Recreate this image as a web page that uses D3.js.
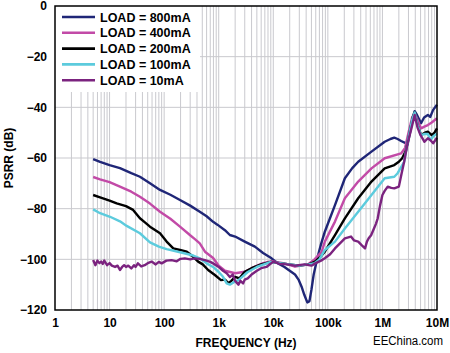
<!DOCTYPE html>
<html>
<head>
<meta charset="utf-8">
<script src="https://cdn.jsdelivr.net/npm/d3@7"></script>
<style>
  html, body { margin: 0; padding: 0; background: #fff; }
  svg { display: block; }
  text { font-family: "Liberation Sans", Arial, sans-serif; }
</style>
</head>
<body>
<svg id="chart" width="450" height="353"></svg>
<script>
// series: [frequency Hz, PSRR dB]
const load800 = [
  [5, -60.4], [6.7, -61.5], [10, -62.8], [15.5, -64], [25, -66], [36, -67.4], [55, -70],
  [84, -72.6], [130, -74.5], [195, -76.6], [300, -78.8], [450, -81.2], [600, -83], [790, -85.2],
  [960, -86.4], [1300, -88.5], [1600, -90.4], [2000, -91], [3000, -93], [4600, -95],
  [6500, -97.5], [9300, -99.6], [12000, -101.5], [16000, -103], [20000, -104.5], [25000, -106],
  [29000, -108], [33000, -110.8], [37000, -114], [42000, -117], [46000, -116.5], [50000, -112],
  [55000, -106], [65000, -99], [75000, -94], [88000, -89.1], [135000, -78.6], [205000, -68],
  [280000, -64], [360000, -61.5], [630000, -57.5], [1100000, -53.6], [1400000, -52.5],
  [1650000, -52], [1900000, -52.5], [2200000, -53.3], [2600000, -54], [2900000, -54.6],
  [3200000, -50], [3600000, -44], [3900000, -41.5], [4300000, -43], [5100000, -46.3],
  [5800000, -44], [6800000, -43], [7500000, -43.8], [8500000, -41], [10000000, -39]
];
const load400 = [
  [5, -67.5], [6.7, -68.4], [10, -69.5], [15.5, -71.3], [25, -73.3], [36, -75.3], [55, -78],
  [84, -81.2], [130, -84], [195, -87.1], [300, -90.5], [366, -92], [450, -93.7], [560, -97],
  [790, -99.5], [1000, -102.5], [1300, -104.5], [2000, -105.5], [3000, -104.9], [4600, -102.9],
  [6500, -101.5], [9300, -100.7], [16000, -101.6], [25000, -102.9], [43000, -102], [57000, -100],
  [77000, -97], [88000, -93], [135000, -85.1], [205000, -75.9], [360000, -69.3], [630000, -64.1],
  [1100000, -60.1], [2200000, -58.2], [2600000, -56], [3000000, -50], [3500000, -44],
  [3900000, -42.3], [4400000, -45], [5100000, -48.3], [6000000, -47.5], [6800000, -47],
  [8000000, -46], [10000000, -44.3]
];
const load200 = [
  [5, -74.6], [6.7, -75.5], [10, -76.8], [13.5, -77.9], [20, -79], [27, -80.5], [36, -83.8],
  [45, -85.5], [55, -87.1], [84, -89.7], [111, -93], [147, -95.7], [195, -96.3], [260, -97],
  [340, -99], [420, -100.9], [510, -102], [640, -104.2], [850, -106.2], [1100, -108.2],
  [1300, -108], [1500, -109.4], [1700, -108.5], [2000, -106.9], [2400, -107.5], [3000, -104.9],
  [4000, -103.5], [6000, -102], [9000, -101], [13000, -101.5], [20000, -102], [30000, -102.5],
  [45000, -102], [57000, -101], [70000, -99.5], [88000, -97], [135000, -90.4], [205000, -83.8],
  [360000, -75.9], [630000, -69.3], [1100000, -64.1], [1650000, -62.8], [2000000, -61.5],
  [2300000, -60.1], [2700000, -57], [3200000, -49], [3600000, -44], [3900000, -42],
  [4400000, -47], [5100000, -50.9], [6000000, -50], [6800000, -49.6], [8000000, -51],
  [9000000, -50], [10000000, -48.3]
];
const load100 = [
  [5, -80.3], [6.7, -81.8], [10.2, -83.2], [15.5, -85], [20.6, -86.8], [36, -89.7], [55, -93.3],
  [80, -95], [111, -96], [224, -97.5], [341, -98.5], [450, -99.6], [600, -101.6], [790, -103],
  [1000, -105], [1200, -106.9], [1400, -109.5], [1600, -110], [1900, -109], [2300, -108.2],
  [3400, -105], [5000, -103], [9000, -101], [13000, -101.5], [20000, -102], [30000, -102.5],
  [45000, -102], [57000, -101.5], [70000, -100], [88000, -96.3], [135000, -93], [205000, -87.8],
  [360000, -81.2], [630000, -74.6], [1100000, -68], [1650000, -67.4], [1900000, -66],
  [2500000, -61.5], [3000000, -52], [3500000, -45], [3900000, -42], [4400000, -47],
  [5100000, -51], [6000000, -50.5], [6800000, -50.5], [7600000, -53], [8500000, -51.5],
  [10000000, -50.3]
];
const load10 = [
  [5, -100.3], [5.5, -102.3], [6, -100.5], [6.5, -101.5], [7, -100.9], [7.5, -101.8], [8, -100.5],
  [9, -102.3], [10, -101.5], [11, -102.5], [12.6, -103], [14, -102.5], [15.5, -104.2], [17, -103],
  [18.5, -102.3], [20, -103], [22, -102.5], [25, -103.6], [28, -102.3], [30, -103], [33, -101.6],
  [38, -102.8], [44, -102.3], [50, -101.5], [59, -100.9], [70, -102], [80, -101], [90, -101.6],
  [110, -100.5], [137, -100.3], [170, -100.8], [200, -99.8], [240, -99.6], [300, -100],
  [366, -99.6], [450, -99.8], [560, -100.3], [700, -101], [790, -101.6], [1000, -103],
  [1200, -104.5], [1400, -105.5], [1600, -107], [1800, -106], [2000, -108.5], [2300, -110],
  [2500, -108.5], [2800, -109.5], [3000, -108], [3400, -107.5], [4000, -106], [5000, -104.5],
  [6000, -103.5], [7500, -103], [10000, -100.9], [13000, -101.8], [18000, -102], [25000, -102.5],
  [37000, -102], [50000, -102.5], [60000, -101.5], [75000, -100.5], [88000, -99.6],
  [110000, -98], [135000, -95.7], [170000, -93.5], [205000, -91.7], [265000, -91],
  [300000, -92.5], [360000, -93], [420000, -94.5], [480000, -95.7], [520000, -93],
  [560000, -91.7], [620000, -90.5], [700000, -87.8], [760000, -86], [820000, -83.8],
  [900000, -79], [1000000, -74.6], [1100000, -73], [1250000, -71.3], [1450000, -71.8],
  [1650000, -72], [2000000, -71.3], [2250000, -66], [2500000, -61.5], [2900000, -54],
  [3400000, -48.3], [3900000, -43], [4400000, -48], [5000000, -51], [5900000, -53.6],
  [6800000, -52.2], [7600000, -53], [8500000, -54.2], [9300000, -53], [10000000, -52]
];

const seriesNames = ["LOAD = 800mA", "LOAD = 400mA", "LOAD = 200mA", "LOAD = 100mA", "LOAD = 10mA"];
const seriesColors = ["#1f2677", "#c24aa7", "#000000", "#5ccbdd", "#7b237f"];
const seriesData = [load800, load400, load200, load100, load10];

const xTicks = [1, 10, 100, 1e3, 1e4, 1e5, 1e6, 1e7];
const xTickLabels = ["1", "10", "100", "1k", "10k", "100k", "1M", "10M"];
const yTicks = [0, -20, -40, -60, -80, -100, -120];

const svg = d3.select("#chart");
const area = { left: 55, right: 437, top: 6, bottom: 310 };

const scX = d3.scaleLog().domain([1, 1e7]).range([area.left, area.right]);
const scY = d3.scaleLinear().domain([-120, 0]).range([area.bottom, area.top]);

// grid
const minorX = [];
for (let d = 1; d < 1e7; d *= 10) {
    for (let k = 1; k <= 9; k++) {
        if (d * k > 1) minorX.push(d * k);
    }
}
const grid = svg.append("g");
grid.selectAll(".vgrid")
    .data(minorX)
    .enter()
    .append("line")
    .attr("x1", d => scX(d)).attr("x2", d => scX(d))
    .attr("y1", area.top).attr("y2", area.bottom)
    .style("stroke", "#c9c9ce").style("stroke-width", 1);
grid.selectAll(".hgrid")
    .data(yTicks.filter(v => v > -120 && v < 0))
    .enter()
    .append("line")
    .attr("x1", area.left).attr("x2", area.right)
    .attr("y1", d => scY(d)).attr("y2", d => scY(d))
    .style("stroke", "#c9c9ce").style("stroke-width", 1);

// legend background hides the grid
svg.append("rect")
    .attr("x", area.left).attr("y", area.top)
    .attr("width", 145).attr("height", 86)
    .style("fill", "#fff");

// curves
const line = d3.line().x(d => scX(d[0])).y(d => scY(d[1]));
svg.append("g")
    .selectAll("path")
    .data(seriesData)
    .enter()
    .append("path")
    .attr("d", line)
    .style("fill", "none")
    .style("stroke", (d, i) => seriesColors[i])
    .style("stroke-width", 2.4)
    .style("stroke-linejoin", "round");

// frame
svg.append("rect")
    .attr("x", area.left).attr("y", area.top)
    .attr("width", area.right - area.left).attr("height", area.bottom - area.top)
    .style("fill", "none").style("stroke", "#000").style("stroke-width", 1.5);

// axes labels
const axisX = d3.axisBottom(scX).tickValues(xTicks)
    .tickFormat((d, i) => xTickLabels[i]).tickSize(0).tickPadding(8);
const gx = svg.append("g")
    .attr("transform", `translate(0, ${area.bottom})`)
    .call(axisX);
gx.select(".domain").remove();
gx.selectAll("text")
    .style("font-size", "12px").style("font-weight", "bold")
    .style("font-family", "'Liberation Sans', Arial, sans-serif").attr("fill", "#000");

const axisY = d3.axisLeft(scY).tickValues(yTicks)
    .tickFormat(d => d === 0 ? "0" : "\u2212" + Math.abs(d)).tickSize(0).tickPadding(8);
const gy = svg.append("g")
    .attr("transform", `translate(${area.left}, 0)`)
    .call(axisY);
gy.select(".domain").remove();
gy.selectAll("text")
    .style("font-size", "12px").style("font-weight", "bold")
    .style("font-family", "'Liberation Sans', Arial, sans-serif").attr("fill", "#000");

svg.append("text")
    .attr("x", 246).attr("y", 347)
    .attr("text-anchor", "middle")
    .style("font-size", "12px").style("font-weight", "bold")
    .text("FREQUENCY (Hz)");

svg.append("text")
    .attr("transform", `translate(13, ${(area.top + area.bottom) / 2}) rotate(-90)`)
    .attr("text-anchor", "middle")
    .style("font-size", "12px").style("font-weight", "bold")
    .text("PSRR (dB)");

svg.append("text")
    .attr("x", 373).attr("y", 345)
    .attr("textLength", 70).attr("lengthAdjust", "spacingAndGlyphs")
    .style("font-size", "12.5px")
    .text("EEChina.com");

// legend
const legend = svg.append("g")
    .selectAll("g")
    .data(seriesNames)
    .enter()
    .append("g")
    .attr("transform", (d, i) => `translate(62, ${17 + i * 15.8})`);
legend.append("line")
    .attr("x1", 0).attr("x2", 33)
    .style("stroke", (d, i) => seriesColors[i])
    .style("stroke-width", 2.6);
legend.append("text")
    .attr("x", 38).attr("y", 4.5)
    .style("font-size", "12.5px").style("font-weight", "bold")
    .text(d => d);
</script>
</body>
</html>
